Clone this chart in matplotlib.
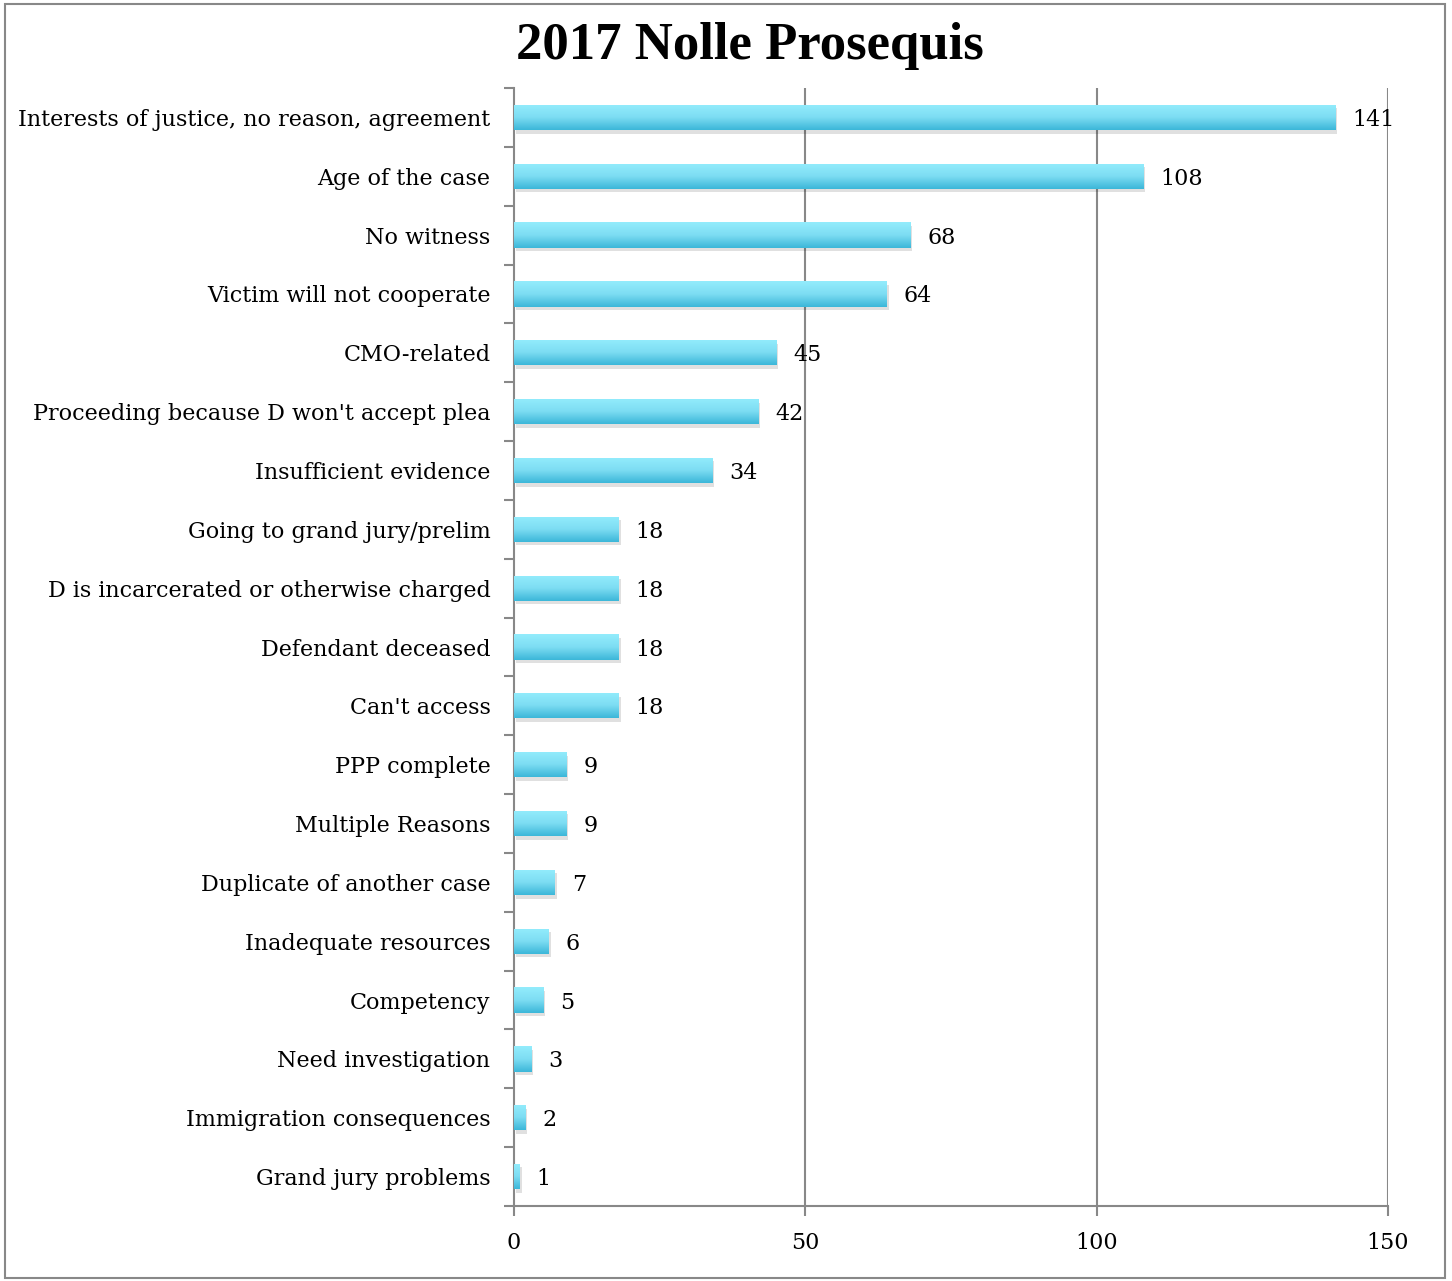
import numpy as np
import matplotlib
matplotlib.use("Agg")
from matplotlib import pyplot as plt
from matplotlib.patches import Rectangle

categories = [
    "Interests of justice, no reason, agreement",
    "Age of the case",
    "No witness",
    "Victim will not cooperate",
    "CMO-related",
    "Proceeding because D won't accept plea",
    "Insufficient evidence",
    "Going to grand jury/prelim",
    "D is incarcerated or otherwise charged",
    "Defendant deceased",
    "Can't access",
    "PPP complete",
    "Multiple Reasons",
    "Duplicate of another case",
    "Inadequate resources",
    "Competency",
    "Need investigation",
    "Immigration consequences",
    "Grand jury problems",
]
counts = [141, 108, 68, 64, 45, 42, 34, 18, 18, 18, 18, 9, 9, 7, 6, 5, 3, 2, 1]
x_ticks = [0, 50, 100, 150]

plt.rcParams["font.family"] = ["DejaVu Serif"]

fig = plt.figure(figsize=(14.52, 12.81), dpi=100)
ax = fig.add_axes([514 / 1452, 1 - 1206 / 1281, (1388 - 514) / 1452, (1206 - 88) / 1281])

n = len(categories)
y = np.arange(n)
bar_h = 0.43
grey = "#888888"

# vertical grid
for xv in x_ticks[1:]:
    ax.axvline(xv, color=grey, lw=1.5, zorder=0)

# gradient image for bars
grad = np.linspace(0, 1, 64).reshape(-1, 1)
cmap = matplotlib.colors.LinearSegmentedColormap.from_list("bar", ["#93ecfc", "#7dddf3", "#3cb7d9"])

bars = ax.barh(y, counts, height=bar_h, color="#6dd5ee", zorder=2)
for b in bars:
    bx, by = b.get_x(), b.get_y()
    bw, bh = b.get_width(), b.get_height()
    # soft shadow
    ax.add_patch(Rectangle((bx + 0.3, by + 0.06), bw, bh, color="#000000", alpha=0.12, lw=0, zorder=1))
    im = ax.imshow(grad, extent=[bx, bx + bw, by + bh, by], aspect="auto", cmap=cmap,
                   zorder=3, interpolation="bilinear")
    im.set_clip_path(b)

for yi, v in zip(y, counts):
    ax.text(v + 2.9, yi, str(v), va="center_baseline", ha="left", fontsize=16, zorder=4)

ax.set_xlim(0, 150)
ax.set_ylim(n - 0.5, -0.5)
ax.set_xticks(x_ticks)
ax.set_xticklabels([str(t) for t in x_ticks], fontsize=16)
ax.set_yticks(y)
ax.set_yticklabels(categories, fontsize=16, va="center_baseline")
ax.set_yticks(np.arange(-0.5, n, 1), minor=True)
ax.tick_params(axis="y", which="major", length=0, pad=17)
ax.tick_params(axis="y", which="minor", length=7, width=1.5, color=grey)
ax.tick_params(axis="x", length=7, width=1.5, color=grey, pad=12)

for s in ["top", "right"]:
    ax.spines[s].set_visible(False)
for s in ["left", "bottom"]:
    ax.spines[s].set_color(grey)
    ax.spines[s].set_linewidth(1.5)

fig.text(750 / 1452, 1 - 46 / 1281, "2017 Nolle Prosequis", ha="center", va="center",
         fontsize=38, fontweight="bold", family=["Liberation Serif"])

fig.patches.append(Rectangle((5 / 1452, 3 / 1281), 1440 / 1452, 1274 / 1281,
                             transform=fig.transFigure, fill=False, edgecolor=grey, lw=1.5))

fig.savefig("out.png", dpi=100)
